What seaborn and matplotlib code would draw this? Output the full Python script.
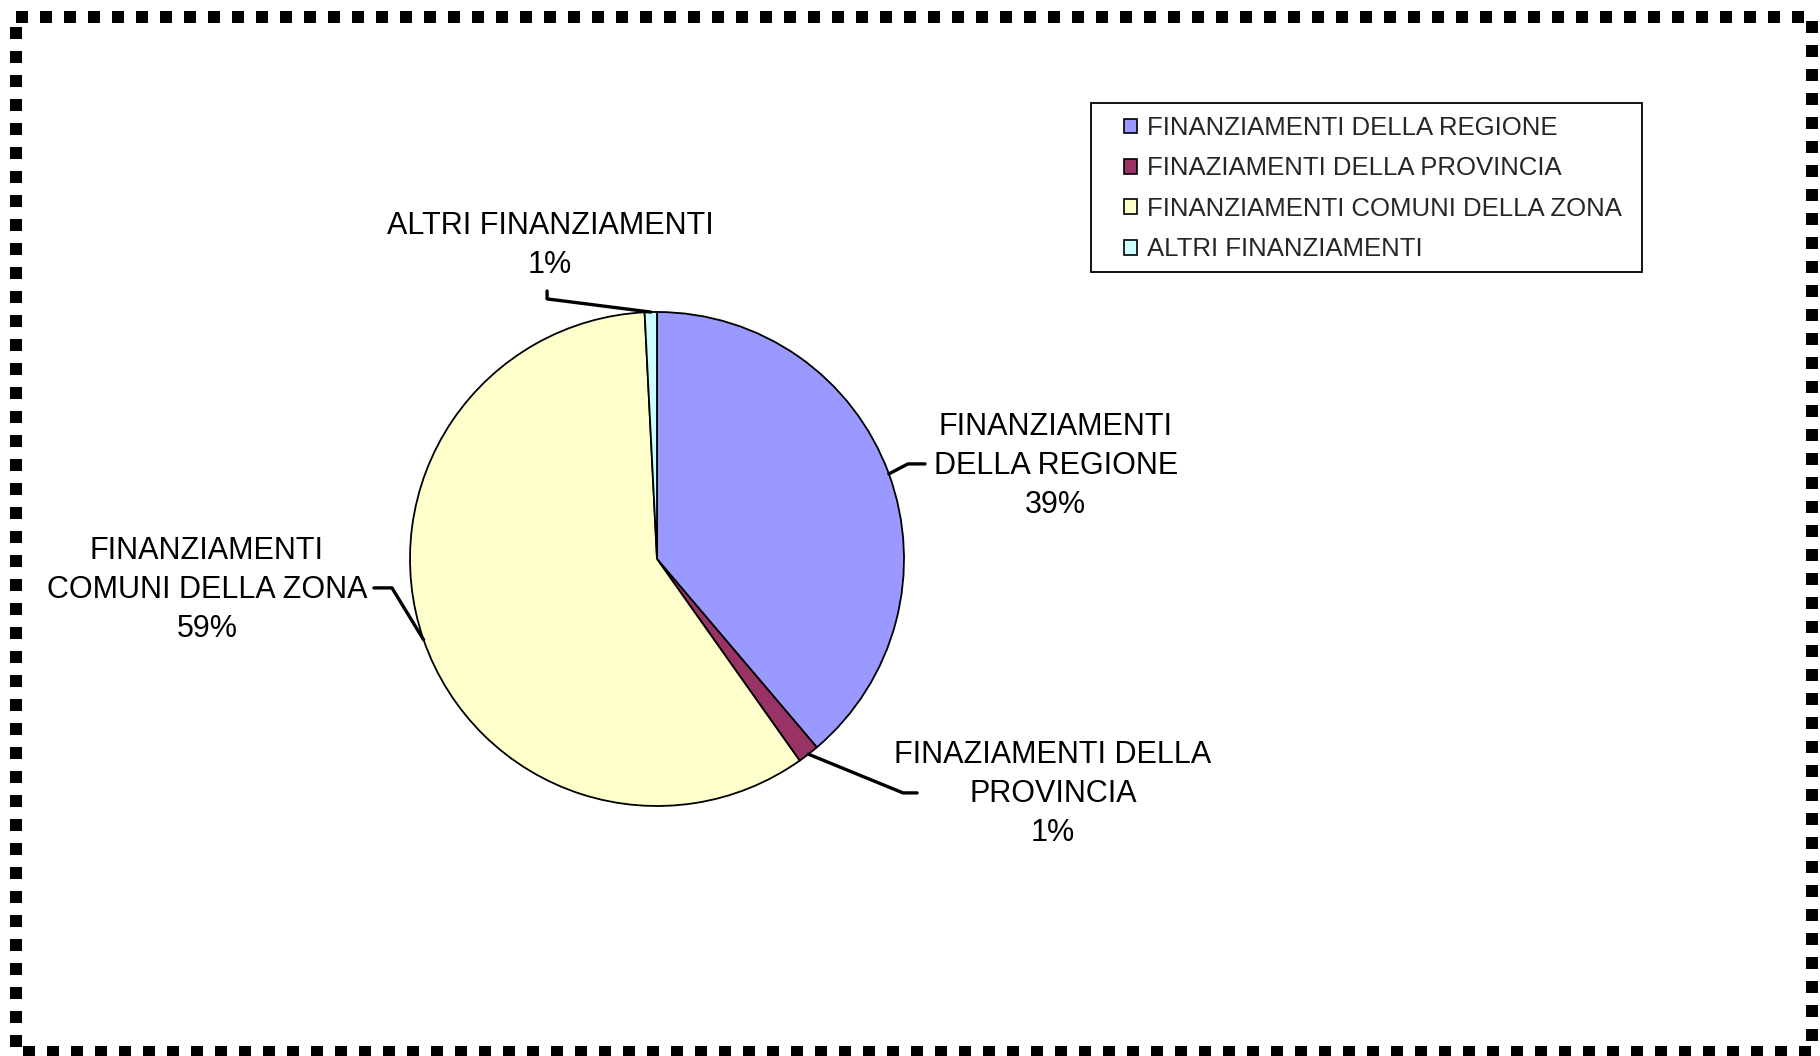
import numpy as np
import seaborn as sns
import matplotlib.pyplot as plt
from matplotlib.lines import Line2D

# dati
categorie = ['FINANZIAMENTI DELLA REGIONE', 'FINAZIAMENTI DELLA PROVINCIA',
             'FINANZIAMENTI COMUNI DELLA ZONA', 'ALTRI FINANZIAMENTI']
etichette = ['FINANZIAMENTI\nDELLA REGIONE', 'FINAZIAMENTI DELLA\nPROVINCIA',
             'FINANZIAMENTI\nCOMUNI DELLA ZONA', 'ALTRI FINANZIAMENTI']
valori = [38.8, 1.4, 59.0, 0.8]
colori = ['#9999FF', '#993366', '#FFFFCC', '#CCFFFF']

sns.set_theme(style='white')
plt.rcParams['font.family'] = ['Liberation Sans', 'DejaVu Sans']

fig = plt.figure(figsize=(18.2, 10.56), dpi=100)
W, H = 1820, 1056

# torta: centro (657,559) px, raggio 247 px
cx, cy, r = 657, 559, 247
ax = fig.add_axes([(cx - r) / W, (H - cy - r) / H, 2 * r / W, 2 * r / H])
wedges, _ = ax.pie(valori, colors=sns.color_palette(colori), startangle=90, counterclock=False,
                   wedgeprops=dict(edgecolor='black', linewidth=1.3))
ax.set_xlim(-1, 1)
ax.set_ylim(-1, 1)
ax.set_aspect('equal')
ax.axis('off')

# posizioni etichette e gomiti delle linee guida (unità del raggio)
pos_testo = [(1.615, 0.376), (1.603, -0.952), (-1.822, -0.125), (-0.433, 1.268)]
gomiti = [[(1.016, 0.385), (1.085, 0.385)],
          [(0.996, -0.947), (1.053, -0.947)],
          [(-1.073, -0.117), (-1.146, -0.117)],
          [(-0.445, 1.053), (-0.445, 1.085)]]

tot = sum(valori)
for w, lab, v, (tx, ty), gom in zip(wedges, etichette, valori, pos_testo, gomiti):
    ang = np.deg2rad((w.theta1 + w.theta2) / 2)
    x0, y0 = np.cos(ang), np.sin(ang)
    xs = [x0] + [p[0] for p in gom]
    ys = [y0] + [p[1] for p in gom]
    ax.add_line(Line2D(xs, ys, color='black', lw=2.4, clip_on=False))
    ax.text(tx, ty, f'{lab}\n{round(v / tot * 100):.0f}%', ha='center', va='center',
            fontsize=22, color='black', linespacing=1.4, clip_on=False)

# riquadro legenda
fig.add_artist(plt.Rectangle((1091 / W, 1 - 272 / H), (1642 - 1091) / W, (272 - 103) / H,
                             transform=fig.transFigure, facecolor='white',
                             edgecolor='black', lw=1.3))
handles = [plt.Rectangle((0, 0), 1, 1, facecolor=c, edgecolor='black', lw=1.2) for c in colori]
leg = fig.legend(handles, categorie, loc='upper left',
                 bbox_to_anchor=(1124 / W, 1 - 116 / H), fontsize=18.5,
                 frameon=False, handlelength=0.5, handleheight=0.5, handletextpad=0.4,
                 labelspacing=0.64, borderpad=0, borderaxespad=0)

# cornice tratteggiata
bx0, bx1 = 16 / W, 1811.5 / W
by0, by1 = 1 - 1052 / H, 1 - 17 / H
cornice = Line2D([bx0, bx1, bx1, bx0, bx0], [by1, by1, by0, by0, by1],
                 transform=fig.transFigure, color='black', lw=8.64,
                 linestyle=(0, (1, 1)), solid_capstyle='butt', dash_capstyle='butt')
fig.add_artist(cornice)

fig.savefig('out.png', dpi=100, facecolor='white')
